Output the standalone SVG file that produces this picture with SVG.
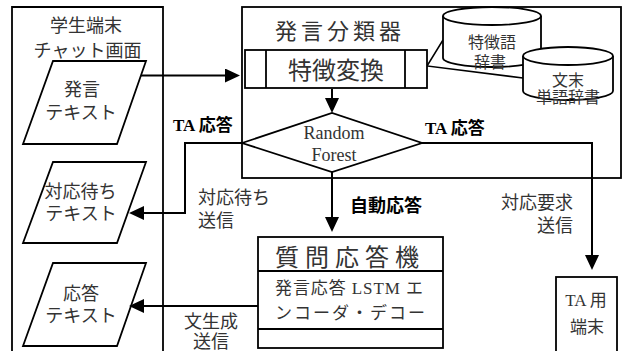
<svg xmlns="http://www.w3.org/2000/svg" width="626" height="351" viewBox="0 0 626 351">
<style>
.box{fill:#fff;stroke:#000;stroke-width:1.8}
.ln{fill:none;stroke:#000;stroke-width:2}
.t{font-family:"Liberation Serif","Noto Sans CJK JP",serif;fill:#333;font-size:18px}
.c{text-anchor:middle}
.b{font-family:"Liberation Serif","Noto Sans CJK JP",serif;font-weight:bold;fill:#000;font-size:17px}
</style>
<defs>
<marker id="ah" viewBox="0 0 15 14" refX="12" refY="7" markerWidth="15" markerHeight="14" markerUnits="userSpaceOnUse" orient="auto">
<path d="M0,0 L15,7 L0,14 Z" fill="#000"/>
</marker>
</defs>
<rect width="626" height="351" fill="#fff"/>

<g id="student">
<path class="box" d="M12,360 V7 H163 V360"/>
<text class="t c" x="86" y="31.5">学生端末</text>
<text class="t c" x="87.5" y="56.5">チャット画面</text>
</g>

<g id="classifier">
<rect class="box" x="242" y="7" width="379" height="171"/>
<text class="t" x="275" y="39" style="font-size:22px;letter-spacing:4px">発言分類器</text>
</g>

<g id="utter-text">
<polygon class="box" points="53,61 146,61 117,144 23,144"/>
<text class="t c" x="82" y="95.5">発言</text>
<text class="t c" x="81" y="118.5">テキスト</text>
</g>

<g id="wait-text">
<polygon class="box" points="53,162 146,162 117,243 23,243"/>
<text class="t c" x="80.5" y="197.5">対応待ち</text>
<text class="t c" x="81" y="219.5">テキスト</text>
</g>

<g id="answer-text">
<polygon class="box" points="53,263 146,263 117,346 23,346"/>
<text class="t c" x="81" y="299.5">応答</text>
<text class="t c" x="81" y="321.5">テキスト</text>
</g>

<g id="connectors">
<path class="ln" d="M141,75.5 H237" marker-end="url(#ah)"/>
<path class="ln" d="M332,89 V110" marker-end="url(#ah)"/>
<path class="ln" d="M242,143 H185 V213 H132" marker-end="url(#ah)"/>
<path class="ln" d="M332,172 V229" marker-end="url(#ah)"/>
<path class="ln" d="M422,143 H592 V267" marker-end="url(#ah)"/>
<path class="ln" d="M258,306 H132" marker-end="url(#ah)"/>
<path fill="none" stroke="#000" stroke-width="1.5" d="M443,40 L427,66 L523,78"/>
</g>

<g id="feature">
<rect class="box" x="245" y="50" width="182" height="38"/>
<line class="ln" x1="266" y1="50" x2="266" y2="88" style="stroke-width:1.8"/>
<line class="ln" x1="405" y1="50" x2="405" y2="88" style="stroke-width:1.8"/>
<text class="t c" x="336" y="78.5" style="font-size:24px">特徴変換</text>
</g>

<g id="dict1">
<path class="box" d="M443,16 A49,9 0 0 1 541,16 V58 A49,9 0 0 1 443,58 Z"/>
<path class="ln" style="stroke-width:1.8" d="M443,16 A49,9 0 0 0 541,16"/>
<text class="t c" x="492" y="47.5" style="font-size:16px">特徴語</text>
<text class="t c" x="490" y="67.5" style="font-size:16px">辞書</text>
</g>

<g id="dict2">
<path class="box" d="M523,56 A45,9 0 0 1 613,56 V91 A45,9 0 0 1 523,91 Z"/>
<path class="ln" style="stroke-width:1.8" d="M523,56 A45,9 0 0 0 613,56"/>
<text class="t c" x="568" y="85.5" style="font-size:16px">文末</text>
<text class="t c" x="568" y="102.5" style="font-size:16px">単語辞書</text>
</g>

<g id="rf">
<polygon class="box" points="242,143 332,113 422,143 332,172"/>
<text class="t c" x="334" y="139">Random</text>
<text class="t c" x="334" y="161">Forest</text>
</g>

<g id="qa">
<rect class="box" x="258" y="237" width="185" height="111"/>
<line class="ln" x1="258" y1="271" x2="443" y2="271" style="stroke-width:1.8"/>
<line class="ln" x1="258" y1="329" x2="443" y2="329" style="stroke-width:1.8"/>
<text class="t" x="275" y="266" style="font-size:24px;letter-spacing:6px">質問応答機</text>
<text class="t" x="275" y="294" style="font-size:17px" textLength="148" lengthAdjust="spacing">発言応答 LSTM エ</text>
<text class="t" x="275" y="319" style="font-size:17px" textLength="150" lengthAdjust="spacing">ンコーダ・デコー</text>
</g>

<g id="ta">
<rect class="box" x="556" y="277" width="61" height="85"/>
<text class="t c" x="586" y="306" style="font-size:17px">TA 用</text>
<text class="t c" x="587" y="333" style="font-size:17px">端末</text>
</g>

<g id="labels">
<text class="b" x="173" y="131">TA 応答</text>
<text class="b" x="425" y="134">TA 応答</text>
<text class="b" x="350" y="211.5" style="font-size:18px">自動応答</text>
<text class="t" x="198" y="203.5">対応待ち</text>
<text class="t" x="198" y="226.5">送信</text>
<text class="t c" x="211" y="327.5">文生成</text>
<text class="t c" x="211" y="347.5">送信</text>
<text class="t" x="573" y="208.5" text-anchor="end">対応要求</text>
<text class="t" x="573" y="231.5" text-anchor="end">送信</text>
</g>
</svg>
